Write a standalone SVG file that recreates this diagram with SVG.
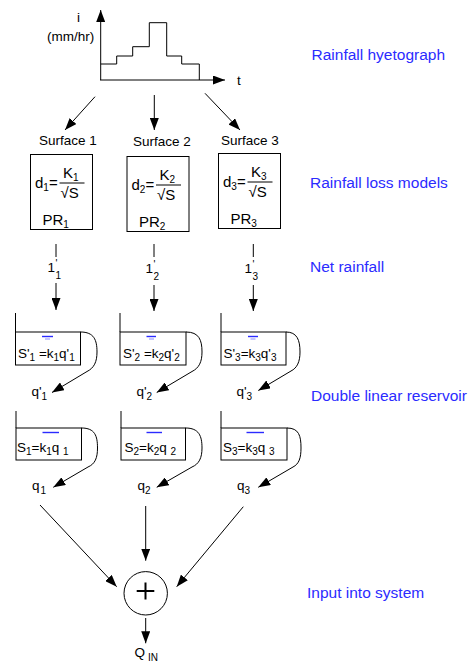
<svg xmlns="http://www.w3.org/2000/svg" width="475" height="666" viewBox="0 0 475 666">
<defs>
<marker id="ah" markerWidth="12" markerHeight="9" refX="12" refY="4.5" orient="auto" markerUnits="userSpaceOnUse"><path d="M0,0 L12,4.5 L0,9 Z" fill="#000"/></marker>
<style>
text{font-family:"Liberation Sans",Arial,sans-serif;font-size:13.5px;fill:#000}
.lab{font-size:15.5px;fill:#2b2bff}
.big{font-size:15px}
.sub{font-size:10px}
.ln{stroke:#000;stroke-width:1;fill:none}
.arr{stroke:#000;stroke-width:1;fill:none;marker-end:url(#ah)}
.box{stroke:#000;stroke-width:1;fill:#fff}
.wat{stroke:#2b2bff;stroke-width:1.4}
.wat2{stroke:#8c8cff;stroke-width:1}
</style>
</defs>
<rect width="475" height="666" fill="#fff"/>

<g id="hyetograph">
<line class="arr" x1="100.7" y1="80" x2="100.7" y2="10"/>
<line class="arr" x1="100" y1="80" x2="225" y2="80"/>
<path class="ln" d="M100.7,64 H116.7 V56 H132.7 V46.7 H149.3 V22.7 H166.7 V56 H181.7 V64 H199.3 V80"/>
<text x="77" y="22">i</text>
<text x="47" y="41">(mm/hr)</text>
<text x="237" y="85">t</text>
</g>

<g id="labels">
<text class="lab" x="311.5" y="60">Rainfall hyetograph</text>
<text class="lab" x="310" y="187.5">Rainfall loss models</text>
<text class="lab" x="310" y="272">Net rainfall</text>
<text class="lab" x="311" y="400.5">Double linear reservoir</text>
<text class="lab" x="307" y="598">Input into system</text>
</g>

<g id="surface1">
<text x="39" y="145">Surface 1</text>
<rect class="box" x="30.5" y="154.5" width="62" height="75"/>
<text class="big" x="35" y="188">d<tspan class="sub" dy="3">1</tspan><tspan dy="-3">=</tspan></text>
<text class="big" x="63" y="178">K<tspan class="sub" dy="3">1</tspan></text>
<line class="ln" x1="59.5" y1="183" x2="84.5" y2="183"/>
<text class="big" x="60.5" y="198">√S</text>
<text class="big" x="42.5" y="225">PR<tspan class="sub" dy="3">1</tspan></text>
</g>
<g id="surface2">
<text x="133" y="146">Surface 2</text>
<rect class="box" x="127" y="156.5" width="62" height="75"/>
<text class="big" x="131.5" y="190">d<tspan class="sub" dy="3">2</tspan><tspan dy="-3">=</tspan></text>
<text class="big" x="159.5" y="180">K<tspan class="sub" dy="3">2</tspan></text>
<line class="ln" x1="156" y1="185" x2="181" y2="185"/>
<text class="big" x="157" y="200">√S</text>
<text class="big" x="139" y="227">PR<tspan class="sub" dy="3">2</tspan></text>
</g>
<g id="surface3">
<text x="221" y="145">Surface 3</text>
<rect class="box" x="218.5" y="153.5" width="62" height="75"/>
<text class="big" x="223" y="187">d<tspan class="sub" dy="3">3</tspan><tspan dy="-3">=</tspan></text>
<text class="big" x="251" y="177">K<tspan class="sub" dy="3">3</tspan></text>
<line class="ln" x1="247.5" y1="182" x2="272.5" y2="182"/>
<text class="big" x="248.5" y="197">√S</text>
<text class="big" x="230.5" y="224">PR<tspan class="sub" dy="3">3</tspan></text>
</g>

<g id="net1">
<text x="47.5" y="272">1</text><text class="sub" x="55.5" y="267">'</text><text class="sub" x="55.5" y="279">1</text>
</g>
<g id="net2">
<text x="145.5" y="273">1</text><text class="sub" x="153.5" y="268">'</text><text class="sub" x="153.5" y="280">2</text>
</g>
<g id="net3">
<text x="244.5" y="273">1</text><text class="sub" x="252.5" y="268">'</text><text class="sub" x="252.5" y="280">3</text>
</g>

<g id="res1a">
<path class="ln" d="M15.5,313 V332"/>
<rect class="box" x="15.5" y="332" width="65" height="33"/>
<line class="wat" x1="42" y1="336.5" x2="53" y2="336.5"/><line class="wat2" x1="45" y1="339" x2="50" y2="339"/>
<text x="18" y="357.5">S'<tspan class="sub" dy="3">1</tspan><tspan dy="-3"> =k</tspan><tspan class="sub" dy="3">1</tspan><tspan dy="-3">q'</tspan><tspan class="sub" dy="3">1</tspan></text>
</g>
<g id="res2a">
<path class="ln" d="M120,313 V332"/>
<rect class="box" x="120" y="332" width="66" height="33"/>
<line class="wat" x1="146.5" y1="336.5" x2="156" y2="336.5"/><line class="wat2" x1="149" y1="339" x2="154" y2="339"/>
<text x="123" y="357.5">S'<tspan class="sub" dy="3">2</tspan><tspan dy="-3"> =k</tspan><tspan class="sub" dy="3">2</tspan><tspan dy="-3">q'</tspan><tspan class="sub" dy="3">2</tspan></text>
</g>
<g id="res3a">
<path class="ln" d="M221,313 V332"/>
<rect class="box" x="221" y="332" width="65" height="33"/>
<line class="wat" x1="248" y1="336.5" x2="258" y2="336.5"/><line class="wat2" x1="250.5" y1="339" x2="255.5" y2="339"/>
<text x="223.5" y="357.5">S'<tspan class="sub" dy="3">3</tspan><tspan dy="-3">=k</tspan><tspan class="sub" dy="3">3</tspan><tspan dy="-3">q'</tspan><tspan class="sub" dy="3">3</tspan></text>
</g>

<g id="q1p"><text x="31.5" y="396">q'<tspan class="sub" dy="4">1</tspan></text></g>
<g id="q2p"><text x="136.5" y="396">q'<tspan class="sub" dy="4">2</tspan></text></g>
<g id="q3p"><text x="236.5" y="396">q'<tspan class="sub" dy="4">3</tspan></text></g>

<g id="res1b">
<path class="ln" d="M16,411 V428"/>
<rect class="box" x="16" y="428" width="65.5" height="32"/>
<line class="wat" x1="42.5" y1="432.5" x2="59" y2="432.5"/>
<text x="17" y="451.5">S<tspan class="sub" dy="3">1</tspan><tspan dy="-3">=k</tspan><tspan class="sub" dy="3">1</tspan><tspan dy="-3">q </tspan><tspan class="sub" dy="3">1</tspan></text>
</g>
<g id="res2b">
<path class="ln" d="M121,411 V428"/>
<rect class="box" x="121" y="428" width="64.5" height="32"/>
<line class="wat" x1="146.5" y1="432.5" x2="162" y2="432.5"/>
<text x="124.5" y="451.5">S<tspan class="sub" dy="3">2</tspan><tspan dy="-3">=k</tspan><tspan class="sub" dy="3">2</tspan><tspan dy="-3">q </tspan><tspan class="sub" dy="3">2</tspan></text>
</g>
<g id="res3b">
<path class="ln" d="M221,411 V428"/>
<rect class="box" x="221" y="428" width="66" height="32"/>
<line class="wat" x1="246.5" y1="432.5" x2="264" y2="432.5"/>
<text x="223" y="451.5">S<tspan class="sub" dy="3">3</tspan><tspan dy="-3">=k</tspan><tspan class="sub" dy="3">3</tspan><tspan dy="-3">q </tspan><tspan class="sub" dy="3">3</tspan></text>
</g>

<g id="q1"><text x="32" y="490">q<tspan class="sub" dx="1" dy="4">1</tspan></text></g>
<g id="q2"><text x="137.5" y="490">q<tspan class="sub" dy="4">2</tspan></text></g>
<g id="q3"><text x="237" y="490">q<tspan class="sub" dy="4">3</tspan></text></g>

<g id="sum">
<circle cx="145.7" cy="593.3" r="21.7" fill="#fff" stroke="#000" stroke-width="1"/>
<line x1="136.7" y1="591" x2="154.3" y2="591" stroke="#000" stroke-width="2"/>
<line x1="145.5" y1="582.5" x2="145.5" y2="599.5" stroke="#000" stroke-width="2"/>
</g>
<g id="qin"><text x="134.5" y="656.5">Q<tspan class="sub" dx="3" dy="4">IN</tspan></text></g>

<g id="connectors">
<line class="arr" x1="95" y1="96.7" x2="65" y2="130"/>
<line class="arr" x1="154.3" y1="95" x2="154.3" y2="130"/>
<line class="arr" x1="205" y1="93.3" x2="240" y2="130"/>
<line class="ln" x1="56" y1="244" x2="56" y2="257"/>
<line class="arr" x1="56" y1="283" x2="56" y2="310"/>
<line class="ln" x1="154" y1="244" x2="154" y2="257"/>
<line class="arr" x1="154" y1="285" x2="154" y2="311"/>
<line class="ln" x1="253.3" y1="244" x2="253.3" y2="257"/>
<line class="arr" x1="253.3" y1="285" x2="253.3" y2="311"/>
<path class="arr" d="M80.5,332 C94,332 97,340 97,352 C97,362 94,368 87,371.5 L52,392.5"/>
<path class="arr" d="M186,332 C199,332 202,340 202,352 C202,362 199,368 192,371.5 L156.7,392.5"/>
<path class="arr" d="M286,332 C297,332 300,340 300,352 C300,362 297,368 291,371 L258.3,390.5"/>
<path class="arr" d="M81.5,428 C95,428 97.5,436 97.5,448 C97.5,458 95,464 88,467 L53.3,487.3"/>
<path class="arr" d="M185.5,428 C199,428 202,436 202,448 C202,458 199,464 192,467 L156.7,487.3"/>
<path class="arr" d="M287,428 C299,428 301,436 301,448 C301,458 299,464 293,467 L258.3,487.3"/>
<line class="arr" x1="40" y1="505" x2="116.7" y2="586.7"/>
<line class="arr" x1="145.7" y1="506" x2="145.7" y2="560.7"/>
<line class="arr" x1="243.3" y1="506.7" x2="176.7" y2="586.7"/>
<line class="arr" x1="145.7" y1="618" x2="145.7" y2="643.3"/>
</g>
</svg>
